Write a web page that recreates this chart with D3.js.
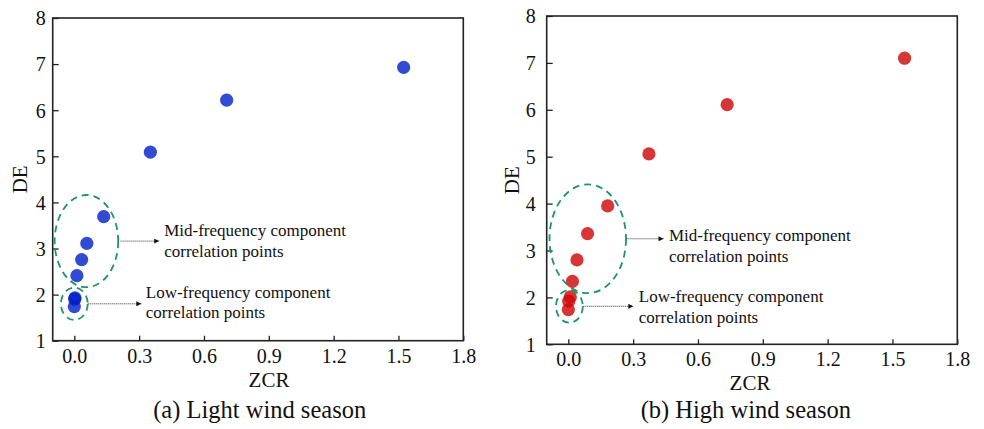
<!DOCTYPE html>
<html>
<head>
<meta charset="utf-8">
<script src="https://cdn.jsdelivr.net/npm/d3@7/dist/d3.min.js"></script>
<style>
  html, body { margin: 0; padding: 0; background: #fff; }
  svg { display: block; }
</style>
</head>
<body>
<svg id="chart" width="984" height="429"></svg>
<script>
// ---- data ----
const xTicks = [0.0, 0.3, 0.6, 0.9, 1.2, 1.5, 1.8];
const yTicks = [1, 2, 3, 4, 5, 6, 7, 8];

const lightZCR = [1.524, 0.705, 0.352, 0.136, 0.058, 0.034, 0.012, 0.003, 0.002, 0.000];
const lightDE  = [6.93, 6.22, 5.09, 3.69, 3.11, 2.76, 2.41, 1.93, 1.90, 1.74];

const highZCR = [1.556, 0.735, 0.373, 0.182, 0.089, 0.040, 0.019, 0.009, 0.002, 0.000];
const highDE  = [7.10, 6.11, 5.06, 3.95, 3.36, 2.80, 2.34, 2.01, 1.92, 1.74];

const captions = ["(a) Light wind season", "(b) High wind season"];
const midLabel = ["Mid-frequency component", "correlation points"];
const lowLabel = ["Low-frequency component", "correlation points"];

// ---- layout ----
const FONT = "'Liberation Serif', 'Times New Roman', Times, serif";
const svg = d3.select("#chart").attr("font-family", FONT);

const panels = [
  {
    zcr: lightZCR, de: lightDE, caption: captions[0],
    color: "rgb(0,30,200)", opacity: 0.8,
    x0: 52.7, x1: 463.3, y0: 340.7, y1: 18,
    capX: 259.7, titleX: 269, deX: 27, ypad: 7,
    mid: {cx: 0.056, cy: 3.16, rx: 0.147, ry: 1.0, a0: 2.4, len: 38.6, tdx: 5, tdy: -5},
    low: {cx: 0.0, cy: 1.80, rx: 0.062, ry: 0.35, a0: 0.6, len: 53, tdx: 4.5, tdy: -6}
  },
  {
    zcr: highZCR, de: highDE, caption: captions[1],
    color: "rgb(205,10,10)", opacity: 0.82,
    x0: 546.7, x1: 957.3, y0: 344.3, y1: 16,
    capX: 745.8, titleX: 750, deX: 519, ypad: 11,
    mid: {cx: 0.09, cy: 3.25, rx: 0.177, ry: 1.16, a0: 0.5, len: 37, tdx: 5.5, tdy: 2.6},
    low: {cx: 0.005, cy: 1.81, rx: 0.062, ry: 0.35, a0: 0.5, len: 50, tdx: 5.5, tdy: -4}
  }
];

const defs = svg.append("defs");
defs.append("marker")
  .attr("id", "arrow")
  .attr("viewBox", "0 0 10 10")
  .attr("refX", 10).attr("refY", 5)
  .attr("markerWidth", 9).attr("markerHeight", 5)
  .attr("markerUnits", "userSpaceOnUse")
  .attr("orient", "auto")
  .append("path")
  .attr("d", "M0,0 L10,5 L0,10 Z")
  .attr("fill", "#111");

panels.forEach(p => {
  const x = d3.scaleLinear().domain([-0.1, 1.8]).range([p.x0, p.x1]);
  const y = d3.scaleLinear().domain([1, 8]).range([p.y0, p.y1]);
  const g = svg.append("g");

  // axes with inward ticks
  const xAxis = d3.axisBottom(x).tickValues(xTicks).tickFormat(d3.format(".1f"))
    .tickSizeInner(-5).tickSizeOuter(0).tickPadding(8);
  const yAxis = d3.axisLeft(y).tickValues(yTicks).tickFormat(d3.format("d"))
    .tickSizeInner(-6).tickSizeOuter(0).tickPadding(p.ypad);

  const gx = g.append("g").attr("transform", `translate(0,${p.y0})`).call(xAxis);
  const gy = g.append("g").attr("transform", `translate(${p.x0},0)`).call(yAxis);
  [gx, gy].forEach(a => {
    a.attr("font-family", FONT).attr("font-size", 20);
    a.select(".domain").remove();
    a.selectAll(".tick line").attr("stroke", "#222").attr("stroke-width", 1.3);
    a.selectAll(".tick text").attr("fill", "#111");
  });
  gy.selectAll(".tick text").attr("dy", "0.34em");

  // frame
  g.append("rect")
    .attr("x", p.x0).attr("y", p.y1)
    .attr("width", p.x1 - p.x0).attr("height", p.y0 - p.y1)
    .attr("fill", "none").attr("stroke", "#222").attr("stroke-width", 1.6);

  // axis titles
  g.append("text").attr("x", p.titleX).attr("y", p.y0 + 46)
    .attr("text-anchor", "middle").attr("font-size", 21).attr("fill", "#111").text("ZCR");
  g.append("text")
    .attr("transform", `translate(${p.deX},${(p.y0 + p.y1) / 2}) rotate(-90)`)
    .attr("text-anchor", "middle").attr("font-size", 21).attr("fill", "#111").text("DE");

  // caption
  svg.append("text").attr("x", p.capX).attr("y", 417.5)
    .attr("text-anchor", "middle").attr("font-size", 24.5).attr("fill", "#111").text(p.caption);

  // points
  const pts = p.zcr.map((v, i) => ({zcr: v, de: p.de[i]}));
  g.append("g").selectAll("circle").data(pts).join("circle")
    .attr("cx", d => x(d.zcr)).attr("cy", d => y(d.de))
    .attr("r", 6.6)
    .attr("fill", p.color).attr("fill-opacity", p.opacity);

  // annotations
  [[p.mid, midLabel], [p.low, lowLabel]].forEach(([e, lbl]) => {
    const cx = x(e.cx), cy = y(e.cy);
    const rx = x(e.cx + e.rx) - cx, ry = cy - y(e.cy + e.ry);
    g.append("ellipse")
      .attr("cx", cx).attr("cy", cy).attr("rx", rx).attr("ry", ry)
      .attr("fill", "none").attr("stroke", "#1c9470")
      .attr("stroke-width", 1.8).attr("stroke-dasharray", "7,5");
    const ax0 = cx + rx + e.a0, ax1 = ax0 + e.len;
    g.append("line")
      .attr("x1", ax0).attr("y1", cy).attr("x2", ax1).attr("y2", cy)
      .attr("stroke", "#333").attr("stroke-width", 1)
      .attr("stroke-dasharray", "1,1")
      .attr("marker-end", "url(#arrow)");
    const t = g.append("text").attr("x", ax1 + e.tdx).attr("y", cy + e.tdy)
      .attr("font-size", 17).attr("fill", "#111");
    t.append("tspan").attr("x", ax1 + e.tdx).text(lbl[0]);
    t.append("tspan").attr("x", ax1 + e.tdx).attr("dy", 20.5).text(lbl[1]);
  });
});
</script>
</body>
</html>
